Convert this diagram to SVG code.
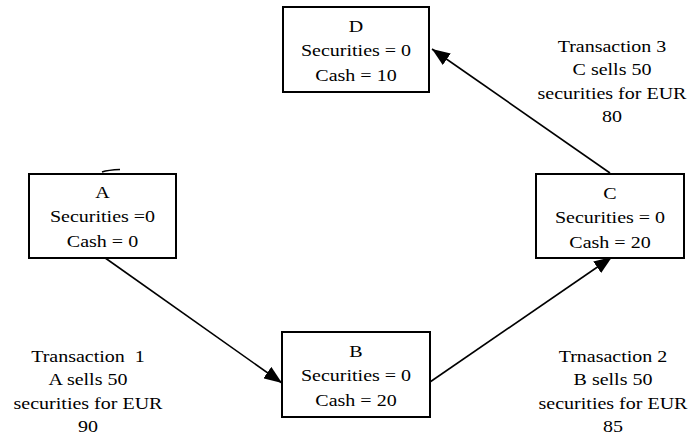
<svg xmlns="http://www.w3.org/2000/svg" width="692" height="439" viewBox="0 0 692 439">
<style>
.box{fill:#fff;stroke:#000;stroke-width:2}
.t{font-family:"Liberation Serif","Times New Roman",serif;font-size:16px;fill:#000;text-anchor:middle}
.edge{stroke:#000;stroke-width:1.6;fill:none}
</style>
<defs>
<marker id="arr" viewBox="0 0 18 14" refX="18" refY="7" markerWidth="18" markerHeight="14" markerUnits="userSpaceOnUse" orient="auto">
<path d="M0,0 L18,7 L0,14 Z" fill="#000"/>
</marker>
</defs>
<rect width="692" height="439" fill="#fff"/>
<g id="connectors">
<line class="edge" x1="101" y1="255" x2="282" y2="383" marker-end="url(#arr)"/>
<line class="edge" x1="430" y1="382" x2="612" y2="257" marker-end="url(#arr)"/>
<line class="edge" x1="610" y1="173" x2="432" y2="49" marker-end="url(#arr)"/>
<path class="edge" d="M102,172 Q108,170 120,169.5"/>
</g>
<g id="node-A">
<rect class="box" x="29" y="174" width="147" height="84"/>
<g transform="translate(102.5,0) scale(1.25,1)">
<text class="t" x="0" y="198">A</text>
<text class="t" x="0" y="222">Securities =0</text>
<text class="t" x="0" y="247">Cash = 0</text>
</g>
</g>
<g id="node-D">
<rect class="box" x="283" y="7" width="146" height="85"/>
<g transform="translate(356,0) scale(1.25,1)">
<text class="t" x="0" y="32">D</text>
<text class="t" x="0" y="56">Securities = 0</text>
<text class="t" x="0" y="81">Cash = 10</text>
</g>
</g>
<g id="node-B">
<rect class="box" x="282" y="332" width="148" height="85"/>
<g transform="translate(356,0) scale(1.25,1)">
<text class="t" x="0" y="357">B</text>
<text class="t" x="0" y="381">Securities = 0</text>
<text class="t" x="0" y="406">Cash = 20</text>
</g>
</g>
<g id="node-C">
<rect class="box" x="536" y="174" width="148" height="84"/>
<g transform="translate(610,0) scale(1.25,1)">
<text class="t" x="0" y="199">C</text>
<text class="t" x="0" y="223">Securities = 0</text>
<text class="t" x="0" y="248">Cash = 20</text>
</g>
</g>
<g id="label-1" transform="translate(88,0) scale(1.25,1)">
<text class="t" x="0" y="362" xml:space="preserve">Transaction  1</text>
<text class="t" x="0" y="385.5">A sells 50</text>
<text class="t" x="0" y="409">securities for EUR</text>
<text class="t" x="0" y="432.5">90</text>
</g>
<g id="label-2" transform="translate(613,0) scale(1.25,1)">
<text class="t" x="0" y="362">Trnasaction 2</text>
<text class="t" x="0" y="385.5">B sells 50</text>
<text class="t" x="0" y="409.5">securities for EUR</text>
<text class="t" x="0" y="432.5">85</text>
</g>
<g id="label-3" transform="translate(612,0) scale(1.25,1)">
<text class="t" x="0" y="52">Transaction 3</text>
<text class="t" x="0" y="75.5">C sells 50</text>
<text class="t" x="0" y="99.5">securities for EUR</text>
<text class="t" x="0" y="122.5">80</text>
</g>
</svg>
